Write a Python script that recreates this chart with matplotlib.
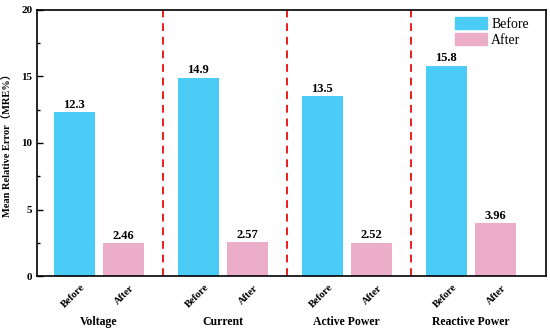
import numpy as np
import matplotlib
matplotlib.use("Agg")
import matplotlib.pyplot as plt
from matplotlib.patches import Patch
from matplotlib.transforms import offset_copy

groups = ["Voltage", "Current", "Active Power", "Reactive Power"]
before_vals = [12.3, 14.9, 13.5, 15.8]
after_vals = [2.46, 2.57, 2.52, 3.96]
before_labels = ["12.3", "14.9", "13.5", "15.8"]
after_labels = ["2.46", "2.57", "2.52", "3.96"]

c_before = "#4ACCF6"
c_after = "#EBADC8"

plt.rcParams["font.family"] = ["Liberation Serif", "Noto Sans CJK SC"]

fig = plt.figure(figsize=(5.5, 3.31), dpi=100)
ax = fig.add_axes([0.0673, 0.166, 0.926, 0.804])

step = 2.54
width = 0.84
x_before = np.arange(len(groups)) * step
x_after = x_before + 1.0

ax.bar(x_before, before_vals, width, color=c_before)
ax.bar(x_after, after_vals, width, color=c_after)

for xb, vb, lb in zip(x_before, before_vals, before_labels):
    ax.text(xb, vb + 0.1, lb, ha="center", va="bottom", fontsize=9, fontweight="bold")
for xa, va, la in zip(x_after, after_vals, after_labels):
    ax.text(xa, va + 0.1, la, ha="center", va="bottom", fontsize=9, fontweight="bold")

for i in range(1, len(groups)):
    xs = (x_after[i - 1] + x_before[i]) / 2 + 0.05
    ax.axvline(xs, color="#EE1C1C", linestyle=(0, (4, 3)), linewidth=1.4)

ax.set_xlim(x_before[0] - 0.765, x_after[-1] + 1.05)
ax.set_ylim(0, 20)
ax.set_yticks([0, 5, 10, 15, 20])
ax.set_yticks([2.5, 7.5, 12.5, 17.5], minor=True)
ax.tick_params(axis="y", direction="in", labelsize=8, length=4, width=1)
ax.tick_params(axis="y", which="minor", direction="in", length=2.5, width=1)
for lbl in ax.get_yticklabels():
    lbl.set_fontweight("bold")

xt = np.concatenate([x_before, x_after])
xl = ["Before"] * len(groups) + ["After"] * len(groups)
ax.set_xticks(xt)
ax.set_xticklabels(xl, rotation=45, ha="right", rotation_mode="anchor",
                   fontsize=7.5, fontweight="bold")
ax.tick_params(axis="x", length=0, pad=5)
for lbl in ax.get_xticklabels():
    lbl.set_transform(offset_copy(lbl.get_transform(), fig=fig, x=6, y=0, units="dots"))

for g, xb, xa in zip(groups, x_before, x_after):
    ax.text((xb + xa) / 2, -0.15, g, transform=ax.get_xaxis_transform(),
            ha="center", va="top", fontsize=8.5, fontweight="bold")

ax.set_ylabel("Mean Relative Error（MRE%）", fontsize=7.5, fontweight="bold", labelpad=6)

for s in ax.spines.values():
    s.set_linewidth(1.2)

handles = [Patch(color=c_before, label="Before"), Patch(color=c_after, label="After")]
ax.legend(handles=handles, loc="upper right", frameon=False, fontsize=10,
          handlelength=2.3, handleheight=1.0, handletextpad=0.3,
          labelspacing=0.15, borderaxespad=0.2, bbox_to_anchor=(0.982, 1.005))

fig.savefig("out.png", dpi=100)
